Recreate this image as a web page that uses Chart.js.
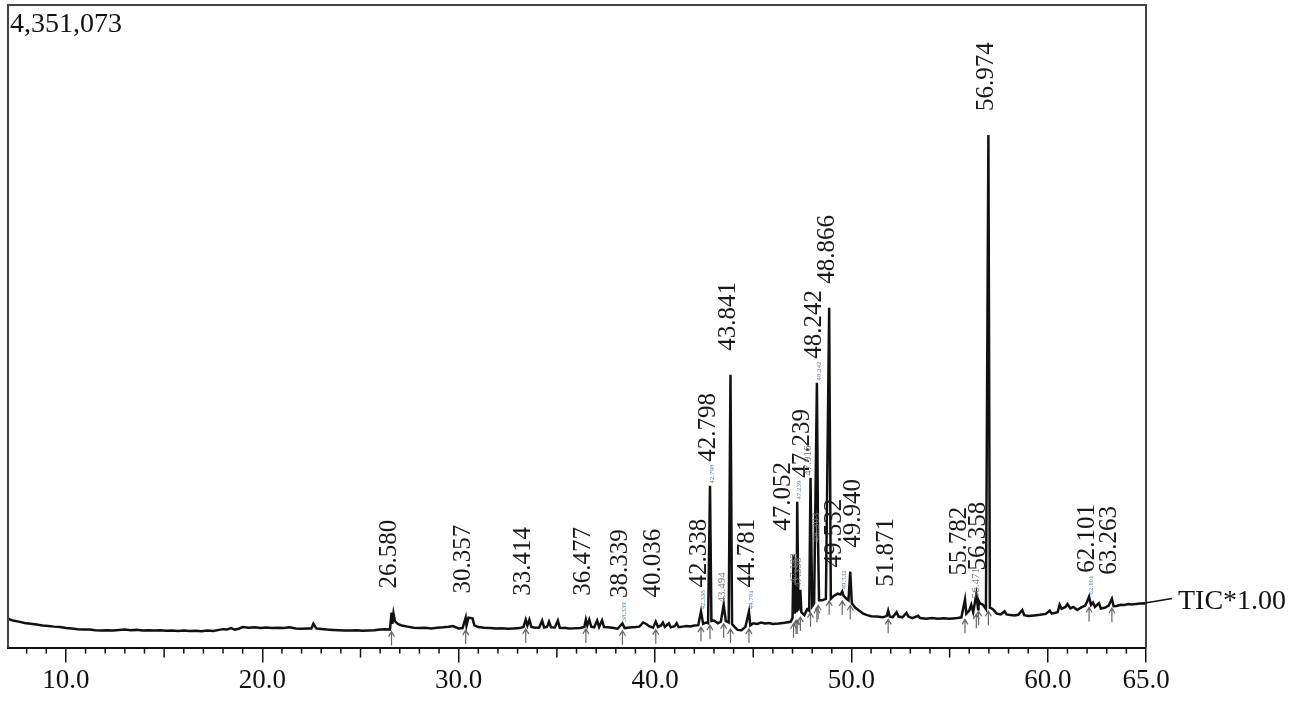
<!DOCTYPE html>
<html>
<head>
<meta charset="utf-8">
<script src="https://cdn.jsdelivr.net/npm/chart.js@4"></script>
<style>
  html, body { margin: 0; padding: 0; background: #fff; }
  #wrap { width: 1299px; height: 706px; }
</style>
</head>
<body>
<div id="wrap"><canvas id="tic"></canvas></div>
<script>
// TIC trace (retention time in min, intensity in counts)
const retentionTimes = [
  7.05, 7.3, 7.6, 7.9, 8.2, 8.5, 8.8, 9.1, 9.4, 9.7,
  10.0, 10.3, 10.6, 10.9, 11.2, 11.5, 11.8, 12.1, 12.4, 12.7,
  13.0, 13.3, 13.6, 13.9, 14.2, 14.5, 14.8, 15.1, 15.4, 15.7,
  16.0, 16.3, 16.6, 16.9, 17.2, 17.5, 17.8, 18.0, 18.2, 18.4,
  18.6, 18.8, 19.0, 19.3, 19.6, 19.9, 20.2, 20.5, 20.8, 21.1,
  21.4, 21.7, 22.0, 22.3, 22.5, 22.6, 22.75, 23.0, 23.3, 23.6,
  23.9, 24.2, 24.5, 24.8, 25.1, 25.4, 25.7, 26.0, 26.3, 26.5,
  26.58, 26.62, 26.68, 26.75, 26.9, 27.1, 27.4, 27.7, 28.0, 28.3,
  28.6, 28.9, 29.2, 29.5, 29.7, 30.0, 30.2, 30.357, 30.4, 30.5,
  30.7, 30.8, 31.0, 31.3, 31.6, 31.9, 32.2, 32.5, 32.8, 33.1,
  33.3, 33.414, 33.5, 33.6, 33.7, 33.9, 34.1, 34.25, 34.35, 34.5,
  34.6, 34.7, 34.9, 35.05, 35.15, 35.3, 35.4, 35.6, 35.9, 36.2,
  36.4, 36.477, 36.55, 36.65, 36.75, 36.9, 37.05, 37.15, 37.3, 37.4,
  37.6, 37.9, 38.1, 38.339, 38.45, 38.7, 39.0, 39.2, 39.4, 39.55,
  39.7, 39.9, 40.036, 40.15, 40.3, 40.4, 40.5, 40.7, 40.8, 41.0,
  41.1, 41.2, 41.4, 41.6, 41.8, 42.0, 42.2, 42.338, 42.45, 42.6,
  42.7, 42.798, 42.87, 43.0, 43.2, 43.35, 43.494, 43.6, 43.75, 43.841,
  43.92, 44.05, 44.2, 44.4, 44.6, 44.781, 44.85, 45.0, 45.2, 45.4,
  45.6, 45.8, 46.0, 46.3, 46.6, 46.9, 47.0, 47.052, 47.12, 47.183,
  47.21, 47.239, 47.3, 47.398, 47.45, 47.6, 47.75, 47.85, 47.916, 48.0,
  48.1, 48.242, 48.303, 48.35, 48.5, 48.7, 48.866, 48.95, 49.1, 49.3,
  49.45, 49.532, 49.6, 49.75, 49.85, 49.94, 50.02, 50.2, 50.4, 50.6,
  50.8, 51.0, 51.3, 51.6, 51.8, 51.871, 51.95, 52.1, 52.3, 52.4,
  52.6, 52.8, 52.9, 53.1, 53.4, 53.5, 53.8, 54.1, 54.4, 54.7,
  55.0, 55.3, 55.6, 55.782, 55.85, 56.0, 56.1, 56.2, 56.358, 56.45,
  56.471, 56.55, 56.7, 56.85, 56.974, 57.05, 57.2, 57.4, 57.6, 57.8,
  57.9, 58.1, 58.3, 58.5, 58.7, 58.8, 59.0, 59.3, 59.6, 59.9,
  60.1, 60.2, 60.5, 60.6, 60.7, 60.9, 61.0, 61.15, 61.3, 61.5,
  61.7, 61.9, 62.0, 62.101, 62.2, 62.3, 62.4, 62.6, 62.7, 62.9,
  63.1, 63.263, 63.35, 63.5, 63.7, 63.9, 64.1, 64.3, 64.5, 64.7,
  65.0
];
const intensities = [
  196000, 183000, 176000, 166000, 162000, 156000, 149000, 146000, 142000, 139000,
  132000, 129000, 125000, 122000, 122000, 118000, 115000, 118000, 115000, 119000,
  122000, 118000, 120000, 116000, 118000, 115000, 117000, 114000, 116000, 112000,
  115000, 112000, 114000, 111000, 115000, 113000, 120000, 125000, 122000, 132000,
  122000, 128000, 139000, 134000, 137000, 133000, 136000, 132000, 135000, 132000,
  138000, 130000, 127000, 130000, 130000, 162000, 130000, 126000, 122000, 120000,
  118000, 116000, 115000, 117000, 114000, 116000, 118000, 122000, 125000, 122000,
  237000, 160000, 230000, 180000, 160000, 149000, 142000, 135000, 132000, 135000,
  130000, 134000, 137000, 141000, 146000, 130000, 132000, 203000, 150000, 203000,
  198000, 150000, 139000, 135000, 132000, 129000, 131000, 128000, 130000, 132000,
  140000, 189000, 150000, 189000, 140000, 135000, 136000, 183000, 136000, 140000,
  176000, 138000, 136000, 183000, 134000, 132000, 135000, 130000, 131000, 133000,
  140000, 189000, 150000, 189000, 142000, 137000, 183000, 140000, 185000, 139000,
  137000, 133000, 128000, 163000, 132000, 136000, 139000, 142000, 170000, 160000,
  145000, 135000, 176000, 140000, 150000, 170000, 140000, 165000, 137000, 145000,
  165000, 138000, 142000, 146000, 143000, 149000, 152000, 244000, 160000, 170000,
  165000, 1096000, 180000, 183000, 165000, 175000, 291000, 180000, 170000, 1847000,
  160000, 140000, 120000, 118000, 140000, 244000, 150000, 165000, 160000, 170000,
  163000, 166000, 160000, 163000, 168000, 175000, 200000, 629000, 230000, 420000,
  240000, 988000, 250000, 392000, 240000, 220000, 260000, 250000, 1150000, 280000,
  300000, 1793000, 697000, 320000, 320000, 330000, 2301000, 330000, 350000, 365000,
  360000, 380000, 350000, 330000, 320000, 514000, 300000, 270000, 250000, 230000,
  220000, 212000, 210000, 205000, 215000, 250000, 210000, 205000, 240000, 210000,
  205000, 235000, 210000, 200000, 215000, 200000, 196000, 200000, 196000, 198000,
  195000, 198000, 205000, 325000, 230000, 250000, 290000, 240000, 359000, 260000,
  320000, 300000, 290000, 260000, 3471000, 270000, 260000, 230000, 225000, 245000,
  225000, 220000, 218000, 222000, 255000, 220000, 214000, 218000, 222000, 228000,
  250000, 230000, 240000, 290000, 262000, 275000, 295000, 265000, 275000, 255000,
  272000, 285000, 310000, 345000, 290000, 305000, 275000, 300000, 265000, 270000,
  285000, 330000, 280000, 282000, 290000, 288000, 295000, 292000, 296000, 298000,
  298000
];

// labelled peaks
const peakTimes = [26.580, 30.357, 33.414, 36.477, 38.339, 40.036, 42.338, 42.798, 43.841, 44.781, 47.052,
  47.239, 48.242, 48.866, 49.532, 49.940, 51.871, 55.782, 56.358, 56.974, 62.101, 63.263];
const peakLabels = ['26.580', '30.357', '33.414', '36.477', '38.339', '40.036', '42.338', '42.798', '43.841', '44.781', '47.052',
  '47.239', '48.242', '48.866', '49.532', '49.940', '51.871', '55.782', '56.358', '56.974', '62.101', '63.263'];
// small secondary tags
const minorPeakTimes = [43.494, 47.183, 47.398, 47.916, 48.303, 56.471];
const minorPeakLabels = ['43.494', '47.183', '47.398', '47.916', '48.303', '56.471'];
const tinyTagTimes = [38.339, 42.338, 42.798, 44.781, 47.239, 48.242, 49.532, 62.101];
const tinyTagLabels = ['38.339', '42.338', '42.798', '44.781', '47.239', '48.242', '49.532', '62.101'];

const majorTicks = [10, 20, 30, 40, 50, 60, 65];
const midTicks = [15, 25, 35, 45, 55];
const minorTicks = [8, 9, 11, 12, 13, 14, 16, 17, 18, 19, 21, 22, 23, 24, 26, 27, 28, 29, 31, 32, 33, 34,
  36, 37, 38, 39, 41, 42, 43, 44, 46, 47, 48, 49, 51, 52, 53, 54, 56, 57, 58, 59, 61, 62, 63, 64];

const maxIntensity = 4351073;
const serif = "'Liberation Serif', 'Times New Roman', serif";

function nearestIndex(t) {
  let best = 0;
  retentionTimes.forEach((rt, i) => {
    if (Math.abs(rt - t) < Math.abs(retentionTimes[best] - t)) best = i;
  });
  return best;
}
function localBase(t) {
  let m = Infinity;
  retentionTimes.forEach((rt, i) => {
    if (Math.abs(rt - t) <= 0.25) m = Math.min(m, intensities[i]);
  });
  return m;
}

const chromPlugin = {
  id: 'chrom',
  afterDatasetsDraw(chart) {
    const { ctx, chartArea: a, scales: { x, y } } = chart;
    ctx.save();

    // frame
    ctx.strokeStyle = '#444';
    ctx.lineWidth = 2;
    ctx.beginPath();
    ctx.moveTo(a.left, a.bottom);
    ctx.lineTo(a.left, a.top);
    ctx.lineTo(a.right, a.top);
    ctx.lineTo(a.right, a.bottom);
    ctx.stroke();

    // minor ticks
    ctx.strokeStyle = '#111';
    ctx.lineWidth = 1.5;
    minorTicks.concat(midTicks).forEach(v => {
      const px = x.getPixelForValue(v);
      const len = midTicks.includes(v) ? 10 : 6;
      ctx.beginPath();
      ctx.moveTo(px, a.bottom);
      ctx.lineTo(px, a.bottom + len);
      ctx.stroke();
    });

    // arrows under the peaks
    ctx.strokeStyle = '#666';
    ctx.lineWidth = 1.2;
    peakTimes.concat(minorPeakTimes).forEach(t => {
      const px = x.getPixelForValue(t);
      const tip = y.getPixelForValue(localBase(t)) + 2;
      const end = Math.min(tip + 14, a.bottom - 2);
      ctx.beginPath();
      ctx.moveTo(px, end);
      ctx.lineTo(px, tip);
      ctx.moveTo(px - 3, tip + 5);
      ctx.lineTo(px, tip);
      ctx.lineTo(px + 3, tip + 5);
      ctx.stroke();
    });

    // main peak labels, pushed apart when they collide
    ctx.font = '25px ' + serif;
    const placed = peakTimes.map((t, i) => {
      const apex = y.getPixelForValue(intensities[nearestIndex(t)]);
      const bottom = Math.min(598, apex - 24);
      const len = ctx.measureText(peakLabels[i]).width;
      return { text: peakLabels[i], x: x.getPixelForValue(t) - 2, bottom, top: bottom - len };
    });
    for (let i = 1; i < placed.length; i++) {
      const p = placed[i - 1], c = placed[i];
      const overlapY = c.top < p.bottom && p.top < c.bottom;
      if (overlapY && c.x - p.x < 19) {
        const d = 19 - (c.x - p.x);
        p.x -= d / 2;
        c.x += d / 2;
      }
    }
    ctx.fillStyle = '#1a1a1a';
    ctx.textAlign = 'left';
    ctx.textBaseline = 'middle';
    placed.forEach(p => {
      ctx.save();
      ctx.translate(p.x, p.bottom);
      ctx.rotate(-Math.PI / 2);
      ctx.fillText(p.text, 0, 0);
      ctx.restore();
    });

    // secondary gray tags
    ctx.font = '11px ' + serif;
    ctx.fillStyle = '#777';
    minorPeakTimes.forEach((t, i) => {
      const apex = y.getPixelForValue(intensities[nearestIndex(t)]);
      ctx.save();
      ctx.translate(x.getPixelForValue(t) - 2, apex - 2);
      ctx.rotate(-Math.PI / 2);
      ctx.fillText(minorPeakLabels[i], 0, 0);
      ctx.restore();
    });

    // tiny blue tags
    ctx.font = '7px ' + serif;
    ctx.fillStyle = '#4d7fbf';
    tinyTagTimes.forEach((t, i) => {
      const apex = y.getPixelForValue(intensities[nearestIndex(t)]);
      ctx.save();
      ctx.translate(x.getPixelForValue(t) + 2, apex - 2);
      ctx.rotate(-Math.PI / 2);
      ctx.fillText(tinyTagLabels[i], 0, 0);
      ctx.restore();
    });

    // max intensity and trace name
    ctx.fillStyle = '#111';
    ctx.textBaseline = 'alphabetic';
    ctx.font = '28px ' + serif;
    ctx.fillText(maxIntensity.toLocaleString('en-US'), a.left + 2, a.top + 27);

    const lastY = y.getPixelForValue(intensities[intensities.length - 1]);
    ctx.strokeStyle = '#111';
    ctx.lineWidth = 1.5;
    ctx.beginPath();
    ctx.moveTo(a.right - 4, lastY);
    ctx.lineTo(a.right + 26, lastY - 5);
    ctx.stroke();
    ctx.fillText('TIC*1.00', a.right + 32, lastY + 5);

    ctx.restore();
  }
};

new Chart(document.getElementById('tic'), {
  type: 'line',
  data: {
    datasets: [{
      label: 'TIC*1.00',
      data: retentionTimes.map((t, i) => ({ x: t, y: intensities[i] })),
      borderColor: '#111',
      borderWidth: 2.5,
      pointRadius: 0,
      tension: 0,
      fill: false
    }]
  },
  options: {
    responsive: true,
    maintainAspectRatio: false,
    animation: false,
    layout: { padding: { top: 5, left: 8, right: 153, bottom: 7 } },
    plugins: { legend: { display: false }, tooltip: { enabled: false } },
    scales: {
      x: {
        type: 'linear',
        min: 7.05,
        max: 65,
        afterBuildTicks: scale => { scale.ticks = majorTicks.map(v => ({ value: v })); },
        grid: { drawOnChartArea: false, drawTicks: true, tickLength: 15, color: '#111', lineWidth: 1.5 },
        border: { display: true, color: '#111', width: 2 },
        ticks: {
          autoSkip: false,
          maxRotation: 0,
          padding: 2,
          color: '#111',
          font: { family: serif, size: 27 },
          callback: v => Number(v).toFixed(1)
        }
      },
      y: {
        display: false,
        min: 0,
        max: maxIntensity
      }
    }
  },
  plugins: [chromPlugin]
});
</script>
</body>
</html>
